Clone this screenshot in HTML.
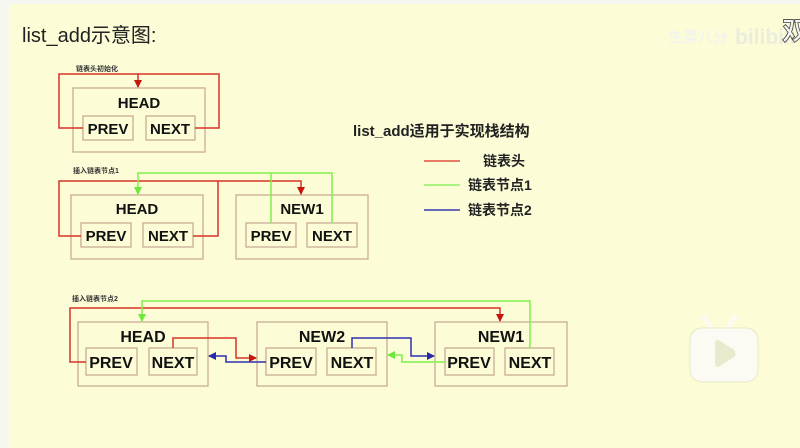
<!DOCTYPE html>
<html><head><meta charset="utf-8"><style>
body{margin:0;width:800px;height:448px;overflow:hidden;background:#f7f7f2;font-family:"Liberation Sans","Noto Sans CJK SC",sans-serif}
</style></head><body>
<svg width="800" height="448" viewBox="0 0 800 448" xmlns="http://www.w3.org/2000/svg" style="position:absolute;left:0;top:0">
<defs>
<marker id="ar" markerWidth="8" markerHeight="8" refX="7" refY="4" orient="auto" markerUnits="userSpaceOnUse"><path d="M0,0 L8,4 L0,8 z" fill="#c8140e"/></marker>
<marker id="ag" markerWidth="8" markerHeight="8" refX="7" refY="4" orient="auto" markerUnits="userSpaceOnUse"><path d="M0,0 L8,4 L0,8 z" fill="#6ee83a"/></marker>
<marker id="ab" markerWidth="8" markerHeight="8" refX="7" refY="4" orient="auto" markerUnits="userSpaceOnUse"><path d="M0,0 L8,4 L0,8 z" fill="#2a2aa8"/></marker>
</defs>
<rect x="9" y="4" width="791" height="444" fill="#fcfcd6"/>
<text x="22" y="42" font-size="20" fill="#222">list_add示意图:</text>
<text x="668" y="42" font-size="15" fill="#f4f4ec" font-weight="bold">生菜八分</text>
<text x="735" y="44" font-size="21" fill="#ececdc" font-weight="bold">bilibili</text>
<g fill="none" stroke="#c9ad95" stroke-width="1.3">
<rect x="73" y="88" width="132" height="64"/><rect x="83" y="116" width="50" height="24"/><rect x="146" y="116" width="49" height="24"/>
<rect x="71" y="195" width="132" height="64"/><rect x="81" y="223" width="50" height="24"/><rect x="143" y="223" width="50" height="24"/>
<rect x="236" y="195" width="132" height="64"/><rect x="246" y="223" width="50" height="24"/><rect x="307" y="223" width="50" height="24"/>
<rect x="78" y="322" width="130" height="64"/><rect x="86" y="348" width="51" height="27"/><rect x="149" y="348" width="48" height="27"/>
<rect x="257" y="322" width="130" height="64"/><rect x="266" y="348" width="50" height="27"/><rect x="327" y="348" width="49" height="27"/>
<rect x="435" y="322" width="132" height="64"/><rect x="445" y="348" width="49" height="27"/><rect x="505" y="348" width="49" height="27"/>
</g>
<g font-weight="bold" fill="#111" text-anchor="middle">
<text x="139" y="108" font-size="15">HEAD</text><text x="108" y="134" font-size="15">PREV</text><text x="170" y="134" font-size="15">NEXT</text>
<text x="137" y="214" font-size="15">HEAD</text><text x="106" y="241" font-size="15">PREV</text><text x="168" y="241" font-size="15">NEXT</text>
<text x="302" y="214" font-size="15">NEW1</text><text x="271" y="241" font-size="15">PREV</text><text x="332" y="241" font-size="15">NEXT</text>
<text x="143" y="342" font-size="16">HEAD</text><text x="111" y="368" font-size="16">PREV</text><text x="173" y="368" font-size="16">NEXT</text>
<text x="322" y="342" font-size="16">NEW2</text><text x="291" y="368" font-size="16">PREV</text><text x="352" y="368" font-size="16">NEXT</text>
<text x="501" y="342" font-size="16">NEW1</text><text x="469" y="368" font-size="16">PREV</text><text x="530" y="368" font-size="16">NEXT</text>
</g>
<g font-size="7" fill="#333" font-weight="bold">
<text x="76" y="71">链表头初始化</text><text x="73" y="173">插入链表节点1</text><text x="72" y="301">插入链表节点2</text>
</g>
<g fill="none" stroke-width="1.5">
<path d="M83,128 H59 V74 H219 V128 H195" stroke="#d8332a"/>
<path d="M138,74 V87" stroke="#d8332a" marker-end="url(#ar)"/>
<path d="M81,236 H59 V181 H301 V194" stroke="#d8332a" marker-end="url(#ar)"/>
<path d="M193,236 H218 V181" stroke="#d8332a"/>
<path d="M332,223 V173 H138 V194" stroke="#7ef04a" marker-end="url(#ag)"/>
<path d="M271,223 V173" stroke="#7ef04a"/>
<path d="M86,362 H70 V308 H500 V321" stroke="#d8332a" marker-end="url(#ar)"/>
<path d="M173,348 V338 H236 V358 H256" stroke="#d8332a" marker-end="url(#ar)"/>
<path d="M266,362 H226 V356 H209" stroke="#2f2fb0" marker-end="url(#ab)"/>
<path d="M352,348 V338 H411 V356 H434" stroke="#2f2fb0" marker-end="url(#ab)"/>
<path d="M445,362 H402 V355 H388" stroke="#7ef04a" marker-end="url(#ag)"/>
<path d="M530,348 V301 H142 V321" stroke="#7ef04a" marker-end="url(#ag)"/>
<path d="M424,161 H460" stroke="#e05040"/>
<path d="M424,185 H460" stroke="#8ef060"/>
<path d="M424,210 H460" stroke="#3a3ab0"/>
</g>
<text x="353" y="136" font-size="15" font-weight="bold" fill="#222">list_add适用于实现栈结构</text>
<g font-size="14" font-weight="bold" fill="#222">
<text x="483" y="166">链表头</text><text x="468" y="190">链表节点1</text><text x="468" y="215">链表节点2</text>
</g>
<g>
<path d="M711,326 L704,318 M728,326 L735,318" stroke="#fbfbf4" stroke-width="5" stroke-linecap="round"/>
<rect x="690" y="328" width="68" height="54" rx="12" fill="#fbfbf4" stroke="#e8e8c8"/>
<path d="M715,343 Q715,338 720,341 L734,350 Q737,354 734,357 L720,366 Q715,369 715,363 Z" fill="#e9e9cc"/>
</g>
<text x="782" y="40" font-size="26" font-weight="bold" fill="#f4f4ee" stroke="#444" stroke-width="0.8">双</text>
</svg>
</body></html>
